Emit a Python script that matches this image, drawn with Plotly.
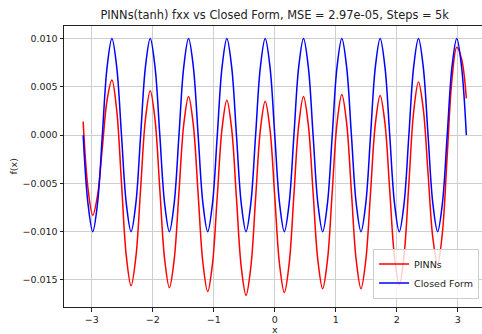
import numpy as np
import plotly.graph_objects as go

# sample grid: 81 points across [-pi, pi]
x = np.linspace(-np.pi, np.pi, 81)

closed_form = [
    0.0, -0.00707, -0.01, -0.00707, 0.0, 0.00707, 0.01, 0.00707,
    0.0, -0.00707, -0.01, -0.00707, 0.0, 0.00707, 0.01, 0.00707,
    0.0, -0.00707, -0.01, -0.00707, 0.0, 0.00707, 0.01, 0.00707,
    0.0, -0.00707, -0.01, -0.00707, 0.0, 0.00707, 0.01, 0.00707,
    0.0, -0.00707, -0.01, -0.00707, 0.0, 0.00707, 0.01, 0.00707,
    0.0, -0.00707, -0.01, -0.00707, 0.0, 0.00707, 0.01, 0.00707,
    0.0, -0.00707, -0.01, -0.00707, 0.0, 0.00707, 0.01, 0.00707,
    0.0, -0.00707, -0.01, -0.00707, 0.0, 0.00707, 0.01, 0.00707,
    0.0, -0.00707, -0.01, -0.00707, 0.0, 0.00707, 0.01, 0.00707,
    0.0, -0.00707, -0.01, -0.00707, 0.0, 0.00707, 0.01, 0.00707,
    0.0,
]

pinns = [
    0.0014, -0.0055, -0.0083, -0.00625, -0.0013, 0.00365, 0.0057, 0.00258,
    -0.00495, -0.01248, -0.0156, -0.01264, -0.0055, 0.00164, 0.0046, 0.00161,
    -0.0056, -0.01281, -0.0158, -0.0129, -0.0059, 0.0011, 0.0040, 0.00104,
    -0.0061, -0.01324, -0.0162, -0.0133, -0.0063, 0.0007, 0.0036, 0.00064,
    -0.0065, -0.01364, -0.0166, -0.01366, -0.00655, 0.00056, 0.0035, 0.0006,
    -0.0064, -0.0134, -0.0163, -0.01333, -0.00615, 0.00103, 0.0040, 0.00108,
    -0.00595, -0.01298, -0.0159, -0.01295, -0.00585, 0.00125, 0.0042, 0.00125,
    -0.00585, -0.01295, -0.0159, -0.01297, -0.0059, 0.00117, 0.0041, 0.00123,
    -0.0057, -0.01263, -0.0155, -0.01242, -0.005, 0.00242, 0.0055, 0.00273,
    -0.00395, -0.01063, -0.0134, -0.0101, -0.00215, 0.0058, 0.0091, 0.0079,
    0.0038,
]

y_ticks = [-0.015, -0.010, -0.005, 0.0, 0.005, 0.010]
x_ticks = [-3, -2, -1, 0, 1, 2, 3]

title_text = "PINNs(tanh) fxx vs Closed Form, MSE = 2.97e-05, Steps = 5k"
FONT = "DejaVu Sans"
INK = "#222222"
SMALL = 9.5

fig = go.Figure()
fig.add_trace(go.Scatter(
    x=x, y=pinns, name="PINNs", mode="lines",
    line=dict(color="#ff0000", width=1.5, shape="spline", smoothing=1.0),
))
fig.add_trace(go.Scatter(
    x=x, y=closed_form, name="Closed Form", mode="lines",
    line=dict(color="#0000ff", width=1.5, shape="spline", smoothing=1.0),
))

axis_common = dict(
    showgrid=True, gridcolor="#cfcfcf", gridwidth=1,
    zeroline=False,
    showline=True, linecolor=INK, linewidth=1,
    ticks="outside", ticklen=3.5, tickwidth=1, tickcolor=INK,
    tickfont=dict(family=FONT, size=SMALL, color=INK),
)

fig.update_layout(
    width=482, height=334,
    margin=dict(l=64, r=0, t=26, b=27),
    paper_bgcolor="white", plot_bgcolor="white",
    font=dict(family=FONT, color=INK),
    title=dict(
        text=title_text, font=dict(family=FONT, size=11.4, color=INK),
        x=0.504, xref="paper", xanchor="center",
        y=1 - 15 / 334, yref="container", yanchor="middle",
    ),
    xaxis=dict(
        range=[-3.456, 3.398], tickvals=x_ticks,
        mirror=True, **axis_common,
    ),
    yaxis=dict(
        range=[-0.0178, 0.0113], tickvals=y_ticks, tickformat=".3f",
        mirror=False, **axis_common,
    ),
    legend=dict(
        x=0.993, y=0.03, xanchor="right", yanchor="bottom",
        bgcolor="rgba(255,255,255,0.8)", bordercolor="#cccccc", borderwidth=1,
        font=dict(family=FONT, size=SMALL, color=INK),
        itemwidth=30, tracegroupgap=0,
    ),
    showlegend=True,
)

# axis labels
fig.add_annotation(
    text="f(x)", xref="paper", yref="paper", x=(13 - 64) / 418, y=0.5,
    textangle=-90, showarrow=False, xanchor="center", yanchor="middle",
    font=dict(family=FONT, size=SMALL, color=INK),
)
fig.add_annotation(
    text="x", xref="paper", yref="paper", x=(275 - 64) / 418, y=-(330 - 307.3) / 281.3,
    showarrow=False, xanchor="center", yanchor="middle",
    font=dict(family=FONT, size=SMALL, color=INK),
)

fig.write_html("out.html")
